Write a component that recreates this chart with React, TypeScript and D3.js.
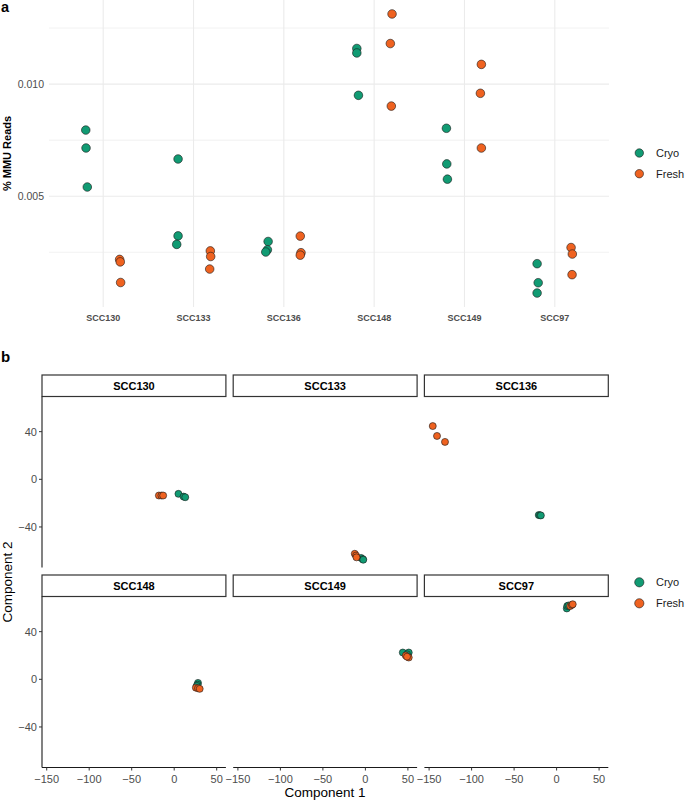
import React from "react";
import * as d3 from "d3";

// ---------- Data ----------
const samples = ["SCC130", "SCC133", "SCC136", "SCC148", "SCC149", "SCC97"];
const conditions = ["Cryo", "Fresh"];

// Panel a: % MMU reads, 3 replicates per sample and condition
const mmuCryo = [
  [0.00795, 0.00715, 0.00541],
  [0.00666, 0.00323, 0.00285],
  [0.00298, 0.00261, 0.00251],
  [0.01159, 0.01139, 0.0095],
  [0.00803, 0.00644, 0.00576],
  [0.00199, 0.00114, 0.00068],
];
const mmuFresh = [
  [0.00218, 0.00207, 0.00115],
  [0.00256, 0.00231, 0.00175],
  [0.00322, 0.00248, 0.00237],
  [0.01313, 0.01181, 0.00902],
  [0.01088, 0.00959, 0.00715],
  [0.00271, 0.00242, 0.0015],
];
// horizontal jitter (in category units)
const jitCryo = [
  [-0.003, 0, 0.014],
  [0.019, 0.019, 0.004],
  [0.016, 0.008, -0.01],
  [-0.002, -0.002, 0.016],
  [-0.01, -0.006, 0.001],
  [-0.006, 0.006, -0.006],
];
const jitFresh = [
  [-0.008, -0.001, 0.003],
  [-0.004, 0, -0.011],
  [-0.008, 0, -0.008],
  [0.008, -0.011, 0],
  [-0.003, -0.014, -0.003],
  [-0.01, 0.004, 0.001],
];
const yTicksA = [0.005, 0.01];
const yMinorA = [0.0025, 0.0075, 0.0125];

// Panel b: PCA components per sample [comp1, comp2]
const pcaCryo: [number, number][][] = [
  [[5, -12.2], [11, -14.5], [13, -15]],
  [[-5, -66], [-3, -67], [-2.5, -67.5]],
  [[-21, -30], [-19.5, -30.2], [-18.5, -30.3]],
  [[28, -3], [27.5, -4.5], [26.5, -5.5]],
  [[44, 22.5], [51, 22.5], [49, 21]],
  [[12, 59.5], [12.5, 61.5], [14, 62]],
];
const pcaFresh: [number, number][][] = [
  [[-18, -13.6], [-15, -13.6], [-13, -13.6]],
  [[-12.5, -62.5], [-11, -64], [-10.5, -65.5]],
  [[-145.7, 44.7], [-140.7, 36.4], [-131.3, 31.4]],
  [[25.5, -7], [28, -7.5], [30, -8]],
  [[47.5, 20], [51, 18.3], [49, 19]],
  [[16, 61.5], [18, 62.5], [19, 63]],
];
const xTicksB = [-150, -100, -50, 0, 50];
const yTicksB = [-40, 0, 40];

const colors = ["#119B73", "#EF6220"];

const FONT = "'Liberation Sans', Arial, Helvetica, sans-serif";

export default function App() {
  // ---------- Panel a ----------
  const aL = 49, aR = 609, aT = 0, aB = 307;
  const xA = d3.scalePoint<string>().domain(samples).range([aL, aR]).padding(0.6);
  const step = xA.step();
  const allA = [...mmuCryo.flat(), ...mmuFresh.flat()];
  const [aMin, aMax] = d3.extent(allA) as [number, number];
  const aPad = (aMax - aMin) * 0.05;
  const yA = d3.scaleLinear().domain([aMin - aPad, aMax + aPad]).range([aB, aT]);
  const dodge = 0.19;

  const pointsA: { x: number; y: number; c: number; key: string }[] = [];
  samples.forEach((s, i) => {
    [mmuCryo, mmuFresh].forEach((arr, ci) => {
      const jit = ci === 0 ? jitCryo : jitFresh;
      arr[i].forEach((v, k) => {
        pointsA.push({
          x: (xA(s) as number) + (ci === 0 ? -dodge : dodge) * step + jit[i][k] * step,
          y: yA(v),
          c: ci,
          key: `a-${s}-${ci}-${k}`,
        });
      });
    });
  });

  // ---------- Panel b ----------
  const fL = 42, fW = 183.9, fGap = 7.3;
  const stripTops = [375, 575];
  const stripH = 21.5;
  const panelH = 171;
  const allB = [...pcaCryo.flat(), ...pcaFresh.flat()];
  const [bxMin, bxMax] = d3.extent(allB, (d) => d[0]) as [number, number];
  const [byMin, byMax] = d3.extent(allB, (d) => d[1]) as [number, number];
  const bxPad = (bxMax - bxMin) * 0.05;
  const byPad = (byMax - byMin) * 0.05;
  const xB = d3.scaleLinear().domain([bxMin - bxPad, bxMax + bxPad]).range([0, fW]);
  const yB = d3.scaleLinear().domain([byMin - byPad, byMax + byPad]).range([panelH, 0]);

  const tickGrey = "#4D4D4D";

  return (
    <svg
      width={685}
      height={801}
      style={{ position: "absolute", left: 0, top: 0, fontFamily: FONT }}
    >
      <rect x={0} y={0} width={685} height={801} fill="#fff" />
      {/* ===== Panel a ===== */}
      <text x={1} y={11.5} fontSize={14.5} fontWeight="bold">a</text>
      {yMinorA.map((t) => (
        <line key={`mn${t}`} x1={aL} x2={aR} y1={yA(t)} y2={yA(t)} stroke="#EEEEEE" strokeWidth={0.8} />
      ))}
      {yTicksA.map((t) => (
        <line key={`mj${t}`} x1={aL} x2={aR} y1={yA(t)} y2={yA(t)} stroke="#EBEBEB" strokeWidth={1.1} />
      ))}
      {samples.map((s) => (
        <line key={`vg${s}`} x1={xA(s)} x2={xA(s)} y1={aT} y2={aB} stroke="#EBEBEB" strokeWidth={1.1} />
      ))}
      {yTicksA.map((t) => (
        <text key={`yl${t}`} x={44} y={yA(t) + 3.8} fontSize={10.5} fill={tickGrey} textAnchor="end">
          {d3.format(".3f")(t)}
        </text>
      ))}
      {samples.map((s) => (
        <text key={`xl${s}`} x={xA(s)} y={320.5} fontSize={9} fontWeight="bold" fill={tickGrey} textAnchor="middle">
          {s}
        </text>
      ))}
      <text
        transform={`translate(10.5,${(aT + aB) / 2}) rotate(-90)`}
        fontSize={11}
        fontWeight="bold"
        textAnchor="middle"
      >
        % MMU Reads
      </text>
      {pointsA.map((p) => (
        <circle key={p.key} cx={p.x} cy={p.y} r={4.3} fill={colors[p.c]} stroke="#1a1a1a" strokeWidth={0.6} />
      ))}
      {conditions.map((c, i) => (
        <g key={`lga${c}`}>
          <circle cx={639.3} cy={153 + i * 20.7} r={4.2} fill={colors[i]} stroke="#1a1a1a" strokeWidth={0.6} />
          <text x={656} y={153 + i * 20.7 + 4} fontSize={11} fill="#1a1a1a">{c}</text>
        </g>
      ))}

      {/* ===== Panel b ===== */}
      <text x={1} y={361.7} fontSize={15} fontWeight="bold">b</text>
      {samples.map((s, i) => {
        const col = i % 3;
        const row = Math.floor(i / 3);
        const x0 = fL + col * (fW + fGap);
        const sTop = stripTops[row];
        const pTop = sTop + stripH;
        return (
          <g key={`f${s}`}>
            <rect x={x0} y={sTop} width={fW} height={stripH} fill="#fff" stroke="#333" strokeWidth={1.2} />
            <text x={x0 + fW / 2} y={sTop + stripH / 2 + 4} fontSize={11} fontWeight="bold" textAnchor="middle">
              {s}
            </text>
            {col === 0 && (
              <g>
                <line x1={x0} x2={x0} y1={pTop} y2={pTop + panelH} stroke="#1a1a1a" strokeWidth={1.1} />
                {yTicksB.map((t) => (
                  <g key={`yt${t}`}>
                    <line x1={x0 - 3} x2={x0} y1={pTop + yB(t)} y2={pTop + yB(t)} stroke="#333" strokeWidth={1} />
                    <text x={x0 - 5} y={pTop + yB(t) + 4} fontSize={11} fill={tickGrey} textAnchor="end">
                      {t < 0 ? `\u2212${Math.abs(t)}` : t}
                    </text>
                  </g>
                ))}
              </g>
            )}
            {row === 1 && (
              <g>
                <line x1={x0} x2={x0 + fW} y1={pTop + panelH} y2={pTop + panelH} stroke="#1a1a1a" strokeWidth={1.1} />
                {xTicksB.map((t) => (
                  <g key={`xt${t}`}>
                    <line x1={x0 + xB(t)} x2={x0 + xB(t)} y1={pTop + panelH} y2={pTop + panelH + 3} stroke="#333" strokeWidth={1} />
                    <text x={x0 + xB(t)} y={pTop + panelH + 15} fontSize={11} fill={tickGrey} textAnchor="middle">
                      {t < 0 ? `\u2212${Math.abs(t)}` : t}
                    </text>
                  </g>
                ))}
              </g>
            )}
            {[pcaCryo, pcaFresh].map((arr, ci) =>
              arr[i].map((d, k) => (
                <circle
                  key={`b${s}${ci}${k}`}
                  cx={x0 + xB(d[0])}
                  cy={pTop + yB(d[1])}
                  r={3.5}
                  fill={colors[ci]}
                  stroke="#1a1a1a"
                  strokeWidth={0.6}
                />
              ))
            )}
          </g>
        );
      })}
      <text x={325} y={797} fontSize={13.5} textAnchor="middle">Component 1</text>
      <text transform={`translate(12,582) rotate(-90)`} fontSize={13.5} textAnchor="middle">
        Component 2
      </text>
      {conditions.map((c, i) => (
        <g key={`lgb${c}`}>
          <circle cx={639.3} cy={582.3 + i * 21} r={4.6} fill={colors[i]} stroke="#1a1a1a" strokeWidth={0.6} />
          <text x={656} y={582.3 + i * 21 + 4} fontSize={11} fill="#1a1a1a">{c}</text>
        </g>
      ))}
    </svg>
  );
}
